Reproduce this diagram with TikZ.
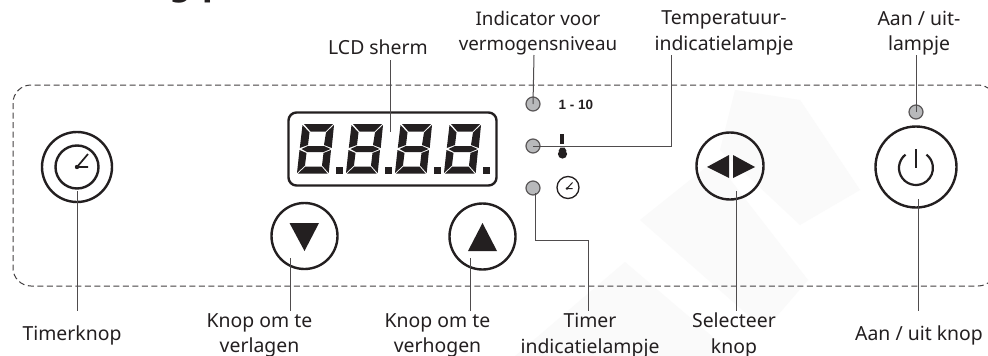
\documentclass[tikz,border=0pt]{standalone}
\usepackage{fontspec}
\setmainfont{Noto Sans}
\newfontfamily\arialf{Liberation Sans}
\newfontfamily\headf{DejaVu Sans}
\definecolor{ink}{HTML}{231F20}
\definecolor{ledgrey}{HTML}{B8B9BB}
\definecolor{wm}{HTML}{FAFAFA}
\tikzset{
  lbl/.style={font=\fontsize{19.4}{25.5}\selectfont,text=ink,align=center,inner sep=0pt},
  lblnarrow/.style={font=\fontsize{18.8}{25.5}\selectfont,text=ink,align=center,inner sep=0pt},
  btn/.style={circle,draw=ink,line width=2.4pt,minimum size=#1,inner sep=0pt},
  led/.style={circle,draw=ink!75,fill=ledgrey,line width=1.2pt,minimum size=14pt,inner sep=0pt},
  cn/.style={draw=ink!80,line width=1pt}
}
\newcommand{\digit}[1]{%
 \begin{scope}[shift={(#1,0)}]
  \fill[ink] (304,124)--(333,124)--(325.5,131.5)--(310.5,131.5)--cycle;
  \fill[ink] (302.5,125)--(309.5,132.5)--(308,145)--(299.8,148)--cycle;
  \fill[ink] (334,125)--(331.7,148)--(324,145)--(326,132.5)--cycle;
  \fill[ink] (301.5,149)--(308,146)--(324,146)--(330.5,149)--(323.5,152)--(307,152)--cycle;
  \fill[ink] (299.5,150)--(306.5,153)--(305,165.5)--(297,173)--cycle;
  \fill[ink] (331,150)--(328.7,173)--(322,165.5)--(323.5,153)--cycle;
  \fill[ink] (298,173.5)--(305.5,166.5)--(321.5,166.5)--(327.5,173.5)--cycle;
  \fill[ink] (336,166.5) rectangle (343,173.5);
 \end{scope}}
\begin{document}
\begin{tikzpicture}[x=1pt,y=-1pt]
\useasboundingbox (0,0) rectangle (988,356);
\clip (0,0) rectangle (988,356);
\fill[white] (0,0) rectangle (988,356);
% watermark
\fill[wm] (515,356)--(625,262)--(735,356)--cycle;
\fill[wm] (640,220)--(715,160)--(808,280)--(765,330)--cycle;
\fill[wm] (735,90)--(800,100)--(860,190)--(800,225)--(720,150)--cycle;
% panel outline
\draw[ink!85,dash pattern=on 6pt off 3.5pt,line width=1pt,rounded corners=18pt] (13,85) rectangle (996,286);
% heading fragment
\begin{scope}
\clip (0,0) rectangle (988,4);
\node[font=\headf\fontsize{31}{36}\bfseries\selectfont,text=ink,inner sep=0pt,anchor=base] (head) at (197,-3.5) {g p};
\end{scope}
% controls
\node[btn=70pt] (timerbtn) at (77,167) {};
\node[btn=43pt] (timerin) at (77,167) {};
\draw[ink,line width=1.7pt] (88,154)--(77,167)--(88,167);
\fill[ink] (77,167) circle (2.2pt);
\node[btn=66pt] (down) at (304.5,236) {};
\fill[ink] (289.5,223)--(319,223)--(304.5,251)--cycle;
\node[btn=66pt] (up) at (482.5,236.5) {};
\fill[ink] (468,251)--(497,251)--(482.5,223)--cycle;
\node[btn=67pt] (sel) at (730,166) {};
\fill[ink] (707,167)--(729,155)--(729,178)--cycle;
\fill[ink] (733,155)--(733,178)--(755,167)--cycle;
\node[btn=81pt] (power) at (916,167) {};
\draw[ink,line width=2.2pt] (905.5,154.6) arc[start angle=128,delta angle=284,radius=17pt];
\draw[ink,line width=2.4pt] (916,149)--(916,168);
% LCD
\node[draw=ink,line width=2.4pt,rounded corners=8pt,minimum width=208pt,minimum height=73pt,inner sep=0pt] (lcd) at (392.5,149) {};
\digit{0}\digit{49}\digit{98}\digit{147}
% LEDs
\node[led] (led1) at (533,104) {};
\node[led] (led2) at (533,146) {};
\node[led] (led3) at (533,188) {};
\node[led] (led4) at (916,112) {};
\node[font=\arialf\fontsize{13.5}{15}\bfseries\selectfont,text=ink,inner sep=0pt] (rng) at (576,105) {1 - 10};
% thermometer
\fill[ink] (560,134) rectangle (564,143.5);
\fill[ink] (560.5,147.5)--(564.5,147.5)--(566.5,151)--(558.5,151)--cycle;
\fill[ink] (562.5,154) circle (4.6pt);
% small clock
\node[circle,draw=ink,line width=1.3pt,minimum size=22pt,inner sep=0pt] (clk) at (568,187.5) {};
\draw[ink,line width=1pt] (572.5,182.5)--(567,188.5)--(572.5,188.5);
\fill[ink] (567,188.5) circle (1.4pt);
% label texts
\node[lbl] (tlcd) at (378,47) {LCD sherm};
\node[lblnarrow] (tpow) at (538,33) {Indicator voor\\vermogensniveau};
\node[lbl] (ttmp) at (724,33) {Temperatuur-\\indicatielampje};
\node[lbl] (tled) at (919,33) {Aan / uit-\\lampje};
\node[lbl] (ttim) at (72,335) {Timerknop};
\node[lbl] (tdwn) at (259.5,335.5) {Knop om te\\verlagen};
\node[lbl] (tup) at (437.5,335.5) {Knop om te\\verhogen};
\node[lbl] (tind) at (590,335.5) {Timer\\indicatielampje};
\node[lbl] (tsel) at (734,335.5) {Selecteer\\knop};
\node[lbl] (tonf) at (919,335) {Aan / uit knop};
% connectors
\coordinate (a1) at (390,132);
\draw[cn] (390,60)--(a1);
\draw[cn] (led1.center) -- (534,55);
\draw[cn] (led2.center) -- (671,146) -- (671,55);
\draw[cn] (535,193) |- (588,240) -- (588,311);
\draw[cn] (led4.center) -- (916,55);
\draw[cn] (77.5,191)--(77.5,311);
\draw[cn] (290.7,258)--(290.7,311);
\draw[cn] (470.7,258)--(470.7,311);
\draw[cn] (736,191)--(736,311);
\draw[cn] (918,199)--(918,311);
\end{tikzpicture}
\end{document}
